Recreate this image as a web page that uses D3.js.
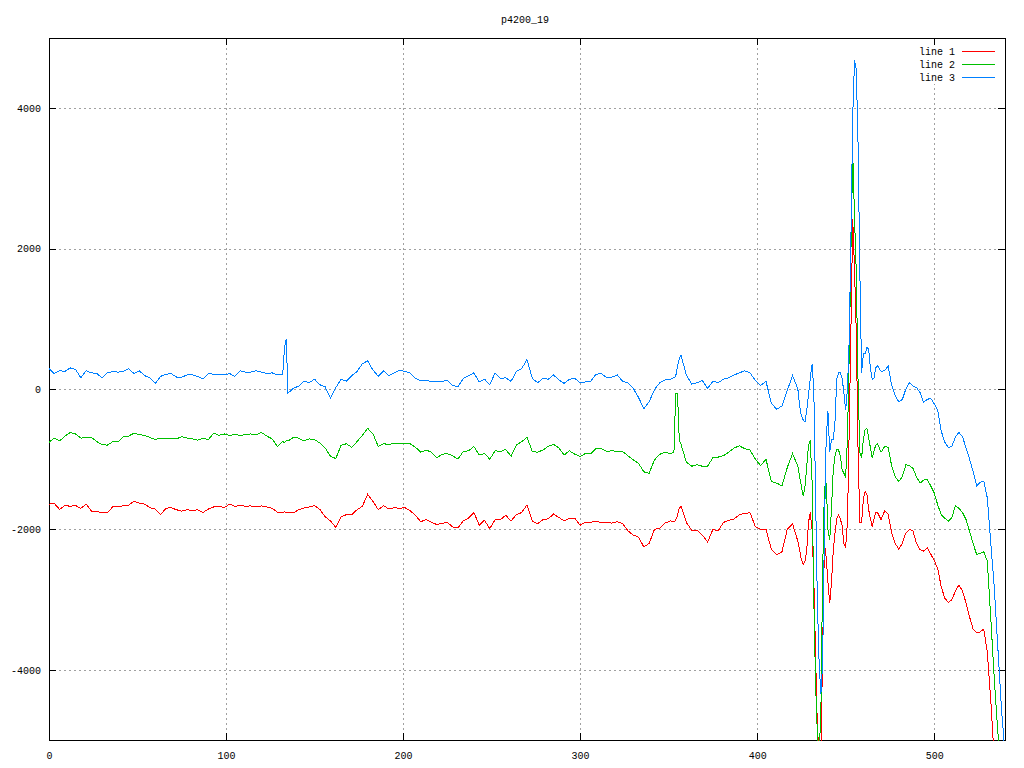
<!DOCTYPE html>
<html><head><meta charset="utf-8">
<script src="https://cdn.jsdelivr.net/npm/d3@7"></script>
<style>
body{margin:0;background:#fff}
text{font-family:"Liberation Mono","DejaVu Sans Mono",monospace;font-size:10px;fill:#000}
</style>
</head><body>
<svg id="c" width="1024" height="768"></svg>
<script>
const title = "p4200_19";
const seriesNames = ["line 1", "line 2", "line 3"];
const seriesColors = ["#ff0000", "#00c000", "#0080ff"];
const xTicks = [0, 100, 200, 300, 400, 500];
const yTicks = [-4000, -2000, 0, 2000, 4000];

const xs = [
0,3,6,9,12,15,18,21,24,27,30,33,36,39,42,45,48,51,54,57,60,63,66,69,72,75,78,81,84,87,90,93,96,99,102,105,108,111,114,117,120,123,126,129,132,
133,134,
135,138,141,144,147,150,153,156,159,162,165,168,171,174,177,180,183,186,189,192,195,198,201,204,207,210,213,216,219,222,225,228,231,234,237,240,243,246,249,252,255,258,261,264,267,270,273,276,279,282,285,288,291,294,297,300,303,306,309,312,315,318,321,324,327,330,333,336,339,342,345,348,351,
353,354,355,356,
357,360,363,366,369,372,375,378,381,384,387,390,393,396,399,402,405,408,411,414,417,420,423,
424,425,426,427,428,429,430,431,432,433,434,435,436,437,438,439,440,441,442,443,444,445,446,447,448,449,450,451,452,453,454,455,456,457,458,459,460,461,462,463,464,465,466,467,
468,470,472,474,476,478,480,482,484,486,488,490,492,494,496,498,500,502,504,506,508,510,512,514,516,518,520,522,524,526,528,530,532,534,536,538,540
];

const line1 = [
-1640,-1630,-1715,-1660,-1670,-1660,-1700,-1640,-1740,-1745,
-1760,-1760,-1680,-1675,-1665,-1655,-1600,-1625,-1640,-1690,
-1710,-1790,-1700,-1690,-1720,-1740,-1720,-1730,-1720,-1760,
-1710,-1680,-1670,-1690,-1640,-1670,-1660,-1670,-1665,-1680,
-1665,-1680,-1700,-1755,-1755,
-1750,-1760,
-1755,-1765,-1720,-1695,-1680,-1660,-1715,-1820,-1880,-1970,
-1820,-1790,-1790,-1720,-1670,-1500,-1600,-1720,-1660,-1710,
-1690,-1700,-1690,-1735,-1800,-1890,-1860,-1900,-1930,-1915,
-1900,-1965,-1980,-1880,-1840,-1760,-1940,-1870,-1990,-1860,
-1860,-1800,-1880,-1790,-1760,-1650,-1880,-1920,-1860,-1850,
-1780,-1830,-1880,-1840,-1840,-1940,-1900,-1900,-1880,-1905,
-1900,-1910,-1890,-1920,-2020,-2080,-2110,-2250,-2200,-2000,
-1980,-1910,-1880,
-1890,-1870,-1800,-1700,
-1670,-1900,-2010,-2010,-2080,-2180,-2000,-2020,-1900,-1870,
-1850,-1790,-1770,-1765,-1960,-2000,-2000,-2280,-2360,-2320,
-2000,-1920,-2170,
-2300,-2430,-2500,-2450,-2300,-1900,-1760,-2000,-2700,-3800,
-4800,-5200,-5200,-3700,-2200,-2400,-2750,-3050,-2750,-2300,
-2050,-1850,-1790,-1850,-1950,-2200,-2250,-1900,-580,900,
2420,1700,800,-860,-1900,-1900,-1570,-1456,-1500,-1720,
-1850,-1960,-1850,-1760,
-1760,-1860,-1740,-1780,-2050,-2200,-2280,-2200,-2050,-2000,
-2020,-2200,-2290,-2310,-2260,-2350,-2440,-2560,-2820,-2980,
-3040,-3000,-2880,-2790,-2880,-3050,-3250,-3420,-3470,-3460,
-3420,-3750,-4450,-5300,-5900,-6400,-6900
];

const line2 = [
-760,-700,-740,-670,-620,-640,-700,-690,-690,-750,
-790,-800,-750,-750,-680,-670,-630,-650,-660,-690,
-720,-700,-700,-700,-710,-680,-700,-710,-730,-700,
-720,-630,-660,-640,-660,-650,-660,-650,-640,-650,
-620,-670,-710,-820,-750,
-760,-740,
-740,-690,-700,-740,-710,-720,-770,-840,-960,-990,
-800,-780,-830,-750,-660,-560,-640,-820,-780,-790,
-770,-780,-780,-780,-830,-900,-870,-900,-980,-930,
-920,-950,-1000,-890,-880,-820,-940,-920,-1000,-880,
-890,-860,-960,-800,-750,-690,-890,-900,-870,-815,
-790,-840,-940,-880,-930,-960,-920,-920,-850,-850,
-890,-880,-890,-890,-950,-1010,-1060,-1180,-1200,-1010,
-930,-900,-920,
-900,-60,-60,-720,
-790,-1040,-1100,-1080,-1100,-1100,-980,-970,-950,-900,
-840,-810,-850,-870,-1000,-1090,-1000,-1320,-1340,-1380,
-1120,-920,-1100,
-1250,-1390,-1520,-1400,-1100,-800,-730,-1300,-3000,-4200,
-4900,-5200,-4600,-2600,-1400,-1340,-2000,-2150,-1700,-1150,
-950,-860,-870,-950,-1150,-1200,-1250,-720,480,2000,
3350,2450,1650,100,-900,-980,-720,-580,-560,-700,
-840,-980,-880,-800,
-780,-900,-820,-830,-1100,-1250,-1320,-1250,-1080,-1090,
-1130,-1250,-1340,-1300,-1280,-1380,-1480,-1650,-1790,-1840,
-1880,-1830,-1660,-1700,-1760,-1860,-2030,-2200,-2360,-2340,
-2320,-2450,-3280,-4150,-4900,-5600,-6200
];

const line3 = [
290,220,260,250,300,280,160,260,230,220,
160,230,250,240,250,290,220,260,190,160,
80,180,210,220,170,170,200,200,180,140,
220,210,200,200,220,180,260,240,240,260,
240,220,230,200,200,
580,710,
-60,10,40,110,90,140,60,30,-130,20,
140,110,190,250,360,400,270,180,260,190,
230,270,250,230,150,120,120,110,110,110,
120,50,30,150,190,230,100,140,60,230,
150,160,110,250,290,420,150,90,150,140,
200,130,80,140,150,90,100,110,210,220,
160,170,200,110,90,10,-120,-280,-180,-10,
90,130,140,
160,180,330,430,
480,200,70,90,120,10,110,90,140,160,
200,230,260,230,120,50,110,-200,-290,-240,
-20,190,0,
-250,-380,-440,-470,-300,-90,150,350,0,-1500,
-3000,-3900,-4350,-3900,-2000,-700,-320,-900,-720,-720,
-450,150,230,230,150,-50,-300,0,700,2200,
3900,4680,4550,3500,1700,230,500,500,590,570,
280,140,150,300,
330,250,260,330,50,-100,-180,-150,0,90,
40,20,-50,-190,-150,-130,-210,-300,-600,-760,
-830,-820,-680,-620,-680,-840,-1000,-1180,-1380,-1330,
-1310,-1550,-2200,-2850,-3700,-4550,-5200
];

const series = [line1, line2, line3];

const svg = d3.select("#c");
const L = 49, R = 1005, T = 38, B = 740;
const x = d3.scaleLinear().domain([0, 540]).range([L, R]);
const y = d3.scaleLinear().domain([-5000, 5000]).range([B, T]);

svg.append("rect").attr("width", 1024).attr("height", 768).attr("fill", "#fff");

// grid
const gx = svg.append("g").attr("transform", `translate(0,${B})`)
  .call(d3.axisBottom(x).tickValues(xTicks.filter(d => d > 0)).tickSize(-(B - T)).tickFormat(""));
gx.select(".domain").remove();
gx.selectAll("line").attr("stroke", "#a0a0a0").attr("stroke-dasharray", "2,3").attr("shape-rendering", "crispEdges");
const gy = svg.append("g").attr("transform", `translate(${L},0)`)
  .call(d3.axisLeft(y).tickValues(yTicks).tickSize(-(R - L)).tickFormat(""));
gy.select(".domain").remove();
gy.selectAll("line").attr("stroke", "#a0a0a0").attr("stroke-dasharray", "2,3").attr("shape-rendering", "crispEdges");

// legend background (gnuplot leaves the key area clear of grid)
svg.append("rect").attr("x", 912).attr("y", 44).attr("width", 88).attr("height", 40).attr("fill", "#fff");

// border and ticks
svg.append("rect").attr("x", L + 0.5).attr("y", T + 0.5).attr("width", R - L).attr("height", B - T)
  .attr("fill", "none").attr("stroke", "#000").attr("shape-rendering", "crispEdges");

function styleAxis(g) {
  g.select(".domain").remove();
  g.selectAll("line").attr("stroke", "#000").attr("shape-rendering", "crispEdges");
  g.selectAll("text").attr("font-family", null).attr("font-size", null);
}
svg.append("g").attr("transform", `translate(${L},0)`)
  .call(d3.axisLeft(y).tickValues(yTicks).tickSize(-7).tickPadding(8).tickFormat(d => String(d))).call(styleAxis);
svg.append("g").attr("transform", `translate(${R},0)`)
  .call(d3.axisRight(y).tickValues(yTicks).tickSize(-7).tickFormat("")).call(styleAxis);
svg.append("g").attr("transform", `translate(0,${B})`)
  .call(d3.axisBottom(x).tickValues(xTicks).tickSize(-7).tickPadding(12).tickFormat(d => String(d))).call(styleAxis);
svg.append("g").attr("transform", `translate(0,${T})`)
  .call(d3.axisTop(x).tickValues(xTicks).tickSize(-7).tickFormat("")).call(styleAxis);

// clip
svg.append("clipPath").attr("id", "plotclip").append("rect")
  .attr("x", L).attr("y", T).attr("width", R - L + 1).attr("height", B - T + 1);

const lineGen = d3.line().x((d, i) => x(xs[i])).y(d => y(d));
const plot = svg.append("g").attr("clip-path", "url(#plotclip)");
series.forEach((s, k) => {
  plot.append("path").datum(s).attr("d", lineGen)
    .attr("fill", "none").attr("stroke", seriesColors[k]).attr("stroke-width", 1)
    .attr("shape-rendering", "crispEdges");
});

// legend
seriesNames.forEach((n, k) => {
  const yy = 51.5 + k * 13;
  svg.append("text").attr("x", 955).attr("y", yy).attr("dy", "0.35em").attr("text-anchor", "end").text(n);
  svg.append("line").attr("x1", 962).attr("x2", 995).attr("y1", yy).attr("y2", yy)
    .attr("stroke", seriesColors[k]).attr("shape-rendering", "crispEdges");
});

// title
svg.append("text").attr("x", 525).attr("y", 23).attr("text-anchor", "middle").text(title);
</script>
</body></html>
